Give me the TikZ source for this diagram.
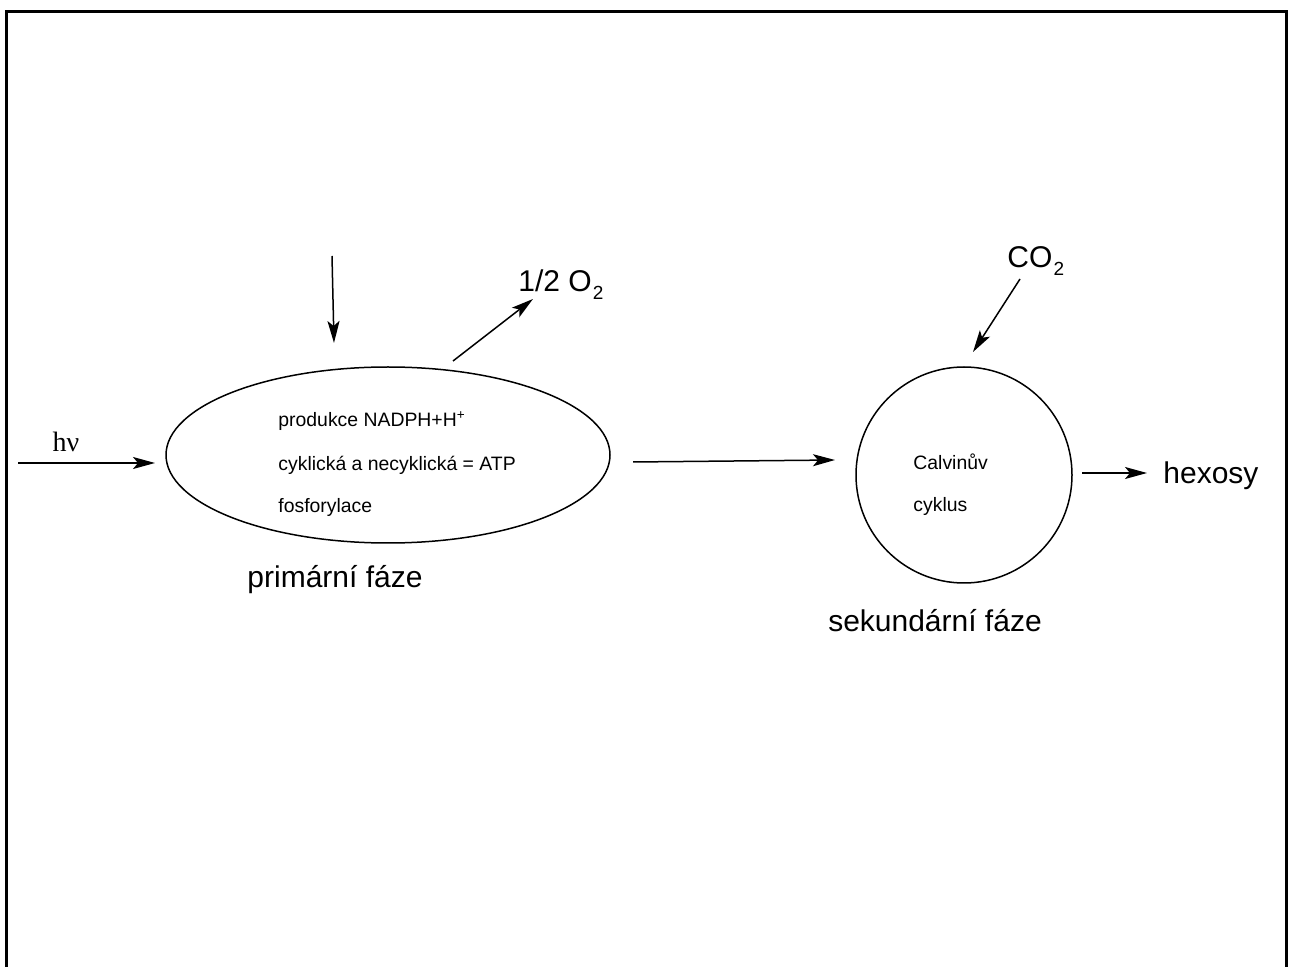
\documentclass[tikz,border=0pt]{standalone}
\usepackage{fontspec}
\setmainfont{Liberation Sans}
\newfontfamily\serifgreek{Liberation Serif}
\usetikzlibrary{arrows.meta,shapes.geometric}
% lowered subscript digit used in the chemical formulas
\newcommand{\lowsub}[1]{\kern0.6pt\raisebox{-4pt}{\fontsize{9.5}{9.5}\selectfont #1}}
\begin{document}
\begin{tikzpicture}[x=0.5pt,y=-0.5pt,
  flow/.style={line width=0.75pt,-{Stealth[length=11pt,width=6pt,inset=2.5pt]}},
  big/.style={font=\fontsize{15}{18}\selectfont,inner sep=0pt,anchor=base},
  small/.style={font=\fontsize{9.7}{12}\selectfont,inner sep=0pt,anchor=base west},
  phase/.style={draw,line width=0.75pt}]
\useasboundingbox (0,0) rectangle (1290,967);
% frame
\draw[line width=1.5pt] (6,975) -- (6,12) -- (1286,12) -- (1286,975);

% primary phase
\node[phase,ellipse,minimum width=222pt,minimum height=88pt,inner sep=0pt] (prim) at (388,455) {};
\node[small] (t1) at (278,427) {produkce NADPH+H\textsuperscript{+}};
\node[small] (t2) at (278,471) {cyklická a necyklická = ATP};
\node[small] (t3) at (278,513) {fosforylace};
\node[big] (primlbl) at (335,588) {primární fáze};

% light input
\node[inner sep=0pt,anchor=base,font=\serifgreek\fontsize{14}{16}\selectfont] (hv) at (66,452) {hν};
\coordinate (hvs) at (18,463);
\coordinate (hve) at (155,463);
\draw[flow] (hvs) -- (hve);

% water input from above
\coordinate (ws) at (332,256);
\coordinate (we) at (334,343);
\draw[flow] (ws) -- (we);

% oxygen output
\node[big,anchor=base west] (o2) at (518,292) {1/2 O\lowsub{2}};
\coordinate (os) at (453,361);
\coordinate (oe) at (533,299);
\draw[flow] (os) -- (oe);

% transfer to the Calvin cycle
\coordinate (ms) at (633,462);
\coordinate (me) at (835,460);
\draw[flow] (ms) -- (me);

% secondary phase
\node[phase,circle,minimum size=108pt,inner sep=0pt] (sec) at (964,475) {};
\node[small] (c1) at (913,470) {Calvinův};
\node[small] (c2) at (913,512) {cyklus};
\node[big] (seclbl) at (935,632) {sekundární fáze};

% carbon dioxide input
\node[big,anchor=base west] (co2) at (1007,268) {CO\lowsub{2}};
\coordinate (cs) at (1020,279);
\coordinate (ce) at (973,352);
\draw[flow] (cs) -- (ce);

% product
\node[big,anchor=base west] (hex) at (1163,484) {hexosy};
\coordinate (hs) at (1082,473);
\coordinate (he) at (1147,473);
\draw[flow] (hs) -- (he);
\end{tikzpicture}
\end{document}
